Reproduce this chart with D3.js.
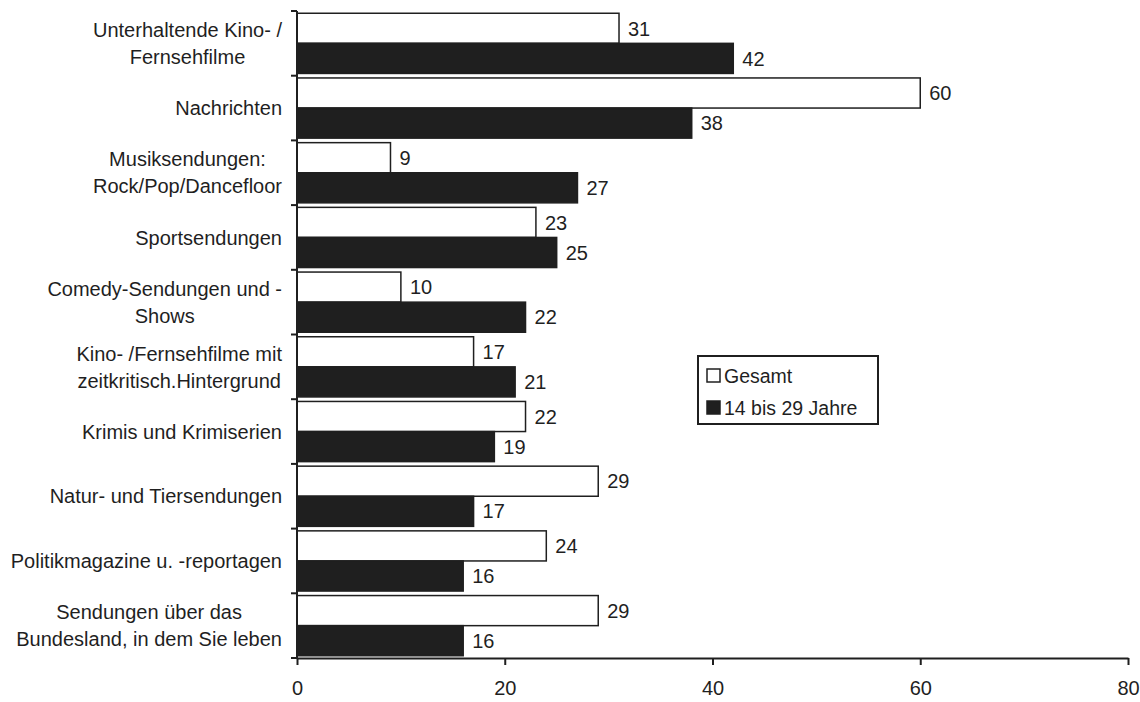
<!DOCTYPE html>
<html>
<head>
<meta charset="utf-8">
<script src="https://cdn.jsdelivr.net/npm/d3@7/dist/d3.min.js"></script>
<style>
  html, body { margin: 0; padding: 0; background: #fff; }
  svg { display: block; font-family: "Liberation Sans", Arial, sans-serif; }
</style>
</head>
<body>
<svg id="chart" width="1140" height="702"></svg>
<script>
// Genre categories (each entry holds the label lines)
const categories = [
  ["Unterhaltende Kino- /", "Fernsehfilme"],
  ["Nachrichten"],
  ["Musiksendungen:", "Rock/Pop/Dancefloor"],
  ["Sportsendungen"],
  ["Comedy-Sendungen und -", "Shows"],
  ["Kino- /Fernsehfilme mit", "zeitkritisch.Hintergrund"],
  ["Krimis und Krimiserien"],
  ["Natur- und Tiersendungen"],
  ["Politikmagazine u. -reportagen"],
  ["Sendungen über das", "Bundesland, in dem Sie leben"]
];
const seriesNames = ["Gesamt", "14 bis 29 Jahre"];
const gesamt = [31, 60, 9, 23, 10, 17, 22, 29, 24, 29];
const jung = [42, 38, 27, 25, 22, 21, 19, 17, 16, 16];
const xTicks = [0, 20, 40, 60, 80];

const svg = d3.select("#chart");
const plotLeft = 297, plotRight = 1128, plotTop = 11, plotBottom = 658;
const ink = "#1f1f1f";
const fontSize = 20;

const x = d3.scaleLinear().domain([0, 80]).range([plotLeft, plotRight]);
const y = d3.scaleBand().domain(d3.range(categories.length)).range([plotTop, plotBottom])
  .paddingInner(0).paddingOuter(0);
const inner = d3.scaleBand().domain([0, 1]).range([0, y.bandwidth()]).paddingInner(0).paddingOuter(0.075);

const series = [
  { name: seriesNames[0], values: gesamt, fill: "#ffffff" },
  { name: seriesNames[1], values: jung, fill: ink }
];

// bars and value labels, drawn series by series
series.forEach((s, si) => {
  const g = svg.append("g");
  g.selectAll("rect").data(s.values).join("rect")
    .attr("x", x(0))
    .attr("y", (d, i) => y(i) + inner(si))
    .attr("width", d => x(d) - x(0))
    .attr("height", inner.bandwidth())
    .attr("fill", s.fill)
    .attr("stroke", ink)
    .attr("stroke-width", 1.5);
  svg.append("g").selectAll("text").data(s.values).join("text")
    .attr("x", d => x(d) + 9)
    .attr("y", (d, i) => y(i) + inner(si) + inner.bandwidth() / 2)
    .attr("dy", "0.36em")
    .attr("font-size", fontSize).attr("fill", ink)
    .text(d => d);
});

// y axis with ticks at category boundaries
const yAxis = svg.append("g");
yAxis.append("line").attr("x1", plotLeft).attr("x2", plotLeft).attr("y1", plotTop).attr("y2", plotBottom)
  .attr("stroke", ink).attr("stroke-width", 2);
d3.range(categories.length + 1).forEach(i => {
  const yy = plotTop + i * y.step();
  yAxis.append("line").attr("x1", plotLeft - 6).attr("x2", plotLeft).attr("y1", yy).attr("y2", yy)
    .attr("stroke", ink).attr("stroke-width", 2);
});

// category labels: block right-aligned, lines centred within the block
const labG = svg.append("g").attr("font-size", fontSize).attr("fill", ink);
categories.forEach((lines, i) => {
  const cy = y(i) + y.bandwidth() / 2;
  const t = labG.append("text").attr("text-anchor", "middle");
  const spans = lines.map(ln => t.append("tspan").text(ln));
  const w = d3.max(spans, s => s.node().getComputedTextLength());
  const cx = 282 - w / 2;
  const lh = 27;
  spans.forEach((s, k) => {
    s.attr("x", cx).attr("y", cy + (k - (lines.length - 1) / 2) * lh).attr("dy", "0.36em");
  });
});

// x axis
const xAxis = svg.append("g").attr("transform", `translate(0,${plotBottom})`)
  .call(d3.axisBottom(x).tickValues(xTicks).tickSize(7).tickPadding(16).tickSizeOuter(0));
xAxis.select(".domain").attr("stroke", ink).attr("stroke-width", 2);
xAxis.selectAll(".tick line").attr("stroke", ink).attr("stroke-width", 2);
xAxis.selectAll(".tick text").attr("font-size", fontSize).attr("fill", ink)
  .attr("font-family", '"Liberation Sans", Arial, sans-serif');

// legend
const lg = svg.append("g").attr("transform", "translate(698,356)");
lg.append("rect").attr("width", 180).attr("height", 68).attr("fill", "#fff")
  .attr("stroke", ink).attr("stroke-width", 2);
series.forEach((s, i) => {
  const cy = 20 + i * 32;
  lg.append("rect").attr("x", 9).attr("y", cy - 7).attr("width", 13).attr("height", 13)
    .attr("fill", s.fill).attr("stroke", ink).attr("stroke-width", 1.5);
  lg.append("text").attr("x", 26).attr("y", cy).attr("dy", "0.36em")
    .attr("font-size", 19.5).attr("fill", ink).text(s.name);
});
</script>
</body>
</html>
